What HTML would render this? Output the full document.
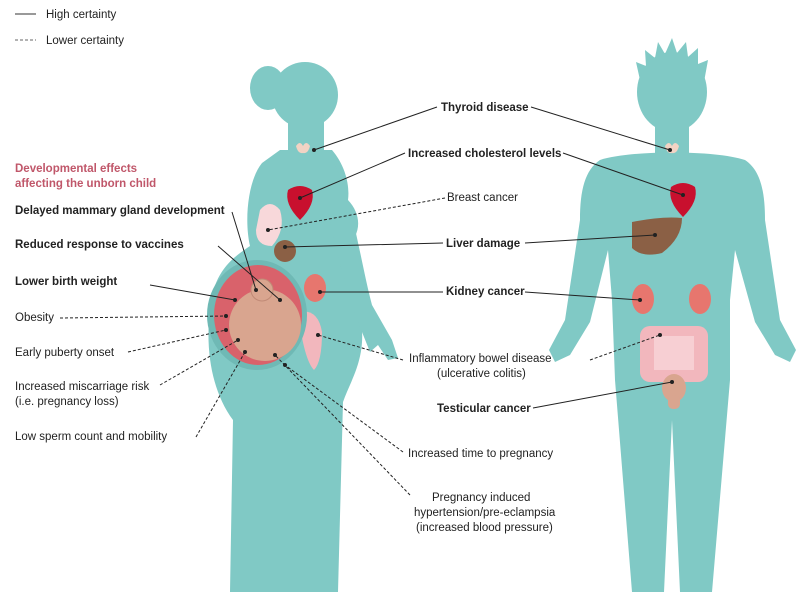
<!DOCTYPE html>
<html><head><meta charset="utf-8"><style>
html,body{margin:0;padding:0;background:#fff;}
svg{display:block;}
text{font-family:"Liberation Sans",sans-serif;font-size:11.5px;fill:#222;}
.b{font-weight:bold;}
</style></head><body>
<svg width="806" height="592" viewBox="0 0 806 592">
<!-- female -->
<g fill="#80c9c5">
<circle cx="305" cy="95" r="33"/>
<ellipse cx="268" cy="88" rx="18" ry="22"/>
<rect x="288" y="115" width="36" height="45"/>
<path d="M280,150 L332,150 C345,165 350,185 348,200 C362,215 362,235 345,248 C352,272 362,300 362,330 C364,362 350,382 343,402 L338,592 L230,592 L233,420 C212,392 205,350 210,310 C213,272 232,258 250,246 C244,220 248,180 262,163 Z"/>
<path d="M332,160 C352,195 360,260 372,305 L392,340 L398,358 L388,360 L378,345 L370,352 L358,322 C344,285 330,225 322,180 Z"/>
</g>
<!-- male -->
<g fill="#80c9c5">
<ellipse cx="672" cy="92" rx="35" ry="40"/>
<polygon points="640,80 636,62 646,66 645,50 655,58 658,42 665,54 672,38 677,53 686,42 688,57 698,48 698,64 708,60 704,82"/>
<rect x="655" y="118" width="34" height="40"/>
<path d="M600,160 C630,150 715,150 745,160 C760,170 765,190 765,220 L780,320 L796,350 L790,362 L775,355 L755,322 L735,250 L730,300 L730,380 L712,592 L680,592 L672,420 L664,592 L632,592 L615,380 L612,300 L608,250 L590,322 L570,355 L555,362 L549,350 L565,320 L580,220 C580,190 585,170 600,160 Z"/>
</g>
<!-- female organs -->
<g>
<path d="M296,146 q4,-6 7,0 q3,-6 7,0 q-2,8 -7,7 q-5,1 -7,-7z" fill="#f2d3c4"/>
<path d="M288,190 q12,-8 24,0 q4,14 -12,30 q-16,-16 -12,-30z" fill="#c8102e"/>
<path d="M260,210 q10,-12 20,0 q6,20 -8,36 q-16,0 -16,-16z" fill="#f8d8da"/>
<circle cx="285" cy="251" r="11" fill="#8b6045"/>
<ellipse cx="315" cy="288" rx="11" ry="14" fill="#e7766e"/>
<path d="M298,312 q20,-4 24,20 q0,30 -8,38 q-10,-10 -16,-58z" fill="#f2b7bd"/>
<ellipse cx="257" cy="315" rx="50" ry="55" fill="#6fb9b5"/>
<ellipse cx="258" cy="315" rx="44" ry="50" fill="#d9626b"/>
<ellipse cx="265" cy="325" rx="36" ry="36" fill="#d9a58f"/>
<circle cx="262" cy="290" r="11" fill="#d9a58f" stroke="#c08a76"/>
</g>
<!-- male organs -->
<g>
<path d="M665,146 q4,-6 7,0 q3,-6 7,0 q-2,8 -7,7 q-5,1 -7,-7z" fill="#f2d3c4"/>
<path d="M671,187 q12,-8 24,0 q4,14 -12,30 q-16,-16 -12,-30z" fill="#c8102e"/>
<path d="M632,222 q30,-6 50,-4 q0,20 -20,35 q-20,5 -30,-5z" fill="#8b6045"/>
<ellipse cx="643" cy="299" rx="11" ry="15" fill="#e7766e"/>
<ellipse cx="700" cy="299" rx="11" ry="15" fill="#e7766e"/>
<rect x="640" y="326" width="68" height="56" rx="10" fill="#f2b7bd"/>
<rect x="654" y="336" width="40" height="34" fill="#f7cfd3"/>
<ellipse cx="674" cy="388" rx="12" ry="14" fill="#d9a58f"/>
<rect x="668" y="395" width="12" height="14" rx="5" fill="#d9a58f"/>
</g>
<!-- legend -->
<line x1="15" y1="14" x2="36" y2="14" stroke="#333"/>
<text x="46" y="18">High certainty</text>
<line x1="15" y1="40" x2="36" y2="40" stroke="#666" stroke-dasharray="3,2"/>
<text x="46" y="44">Lower certainty</text>
<!-- lines -->
<g stroke="#222" stroke-width="1" fill="none">
<path d="M314,150 L437,107 M531,107 L670,150 M300,198 L405,153 M563,153 L683,195 M443,243 L285,247 M525,243 L655,235 M443,292 L320,292 M525,292 L640,300 M533,408 L672,382 M232,212 L256,290 M218,246 L280,300 M150,285 L235,300"/>
<path stroke-dasharray="3,2" d="M445,198 L268,230 M403,360 L318,335 M590,360 L660,335 M403,452 L285,365 M410,495 L275,355 M60,318 L226,316 M128,352 L226,330 M160,385 L238,340 M196,437 L245,352"/>
</g>
<g fill="#222">
<circle cx="314" cy="150" r="2"/><circle cx="670" cy="150" r="2"/><circle cx="300" cy="198" r="2"/><circle cx="683" cy="195" r="2"/><circle cx="285" cy="247" r="2"/><circle cx="655" cy="235" r="2"/><circle cx="320" cy="292" r="2"/><circle cx="640" cy="300" r="2"/><circle cx="672" cy="382" r="2"/><circle cx="256" cy="290" r="2"/><circle cx="280" cy="300" r="2"/><circle cx="235" cy="300" r="2"/><circle cx="268" cy="230" r="2"/><circle cx="318" cy="335" r="2"/><circle cx="660" cy="335" r="2"/><circle cx="285" cy="365" r="2"/><circle cx="275" cy="355" r="2"/><circle cx="226" cy="316" r="2"/><circle cx="226" cy="330" r="2"/><circle cx="238" cy="340" r="2"/><circle cx="245" cy="352" r="2"/>
</g>
<!-- labels -->
<text x="15" y="172" class="b" style="fill:#c0576a">Developmental effects</text>
<text x="15" y="187" class="b" style="fill:#c0576a">affecting the unborn child</text>
<text x="15" y="214" class="b">Delayed mammary gland development</text>
<text x="15" y="248" class="b">Reduced response to vaccines</text>
<text x="15" y="285" class="b">Lower birth weight</text>
<text x="15" y="321">Obesity</text>
<text x="15" y="356">Early puberty onset</text>
<text x="15" y="390">Increased miscarriage risk</text>
<text x="15" y="405">(i.e. pregnancy loss)</text>
<text x="15" y="440">Low sperm count and mobility</text>
<text x="441" y="111" class="b">Thyroid disease</text>
<text x="408" y="157" class="b">Increased cholesterol levels</text>
<text x="447" y="201">Breast cancer</text>
<text x="446" y="247" class="b">Liver damage</text>
<text x="446" y="295" class="b">Kidney cancer</text>
<text x="409" y="362">Inflammatory bowel disease</text>
<text x="437" y="377">(ulcerative colitis)</text>
<text x="437" y="412" class="b">Testicular cancer</text>
<text x="408" y="457">Increased time to pregnancy</text>
<text x="432" y="501">Pregnancy induced</text>
<text x="414" y="516">hypertension/pre-eclampsia</text>
<text x="416" y="531">(increased blood pressure)</text>
</svg>
</body></html>
